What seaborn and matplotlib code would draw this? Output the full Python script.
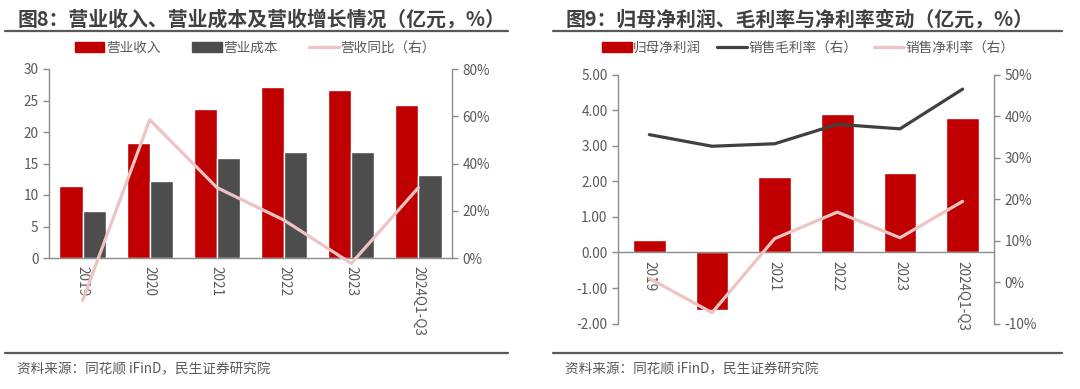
import numpy as np
import pandas as pd
import matplotlib
matplotlib.use('Agg')
import matplotlib.pyplot as plt
import seaborn as sns
from matplotlib.patches import Patch
from matplotlib.lines import Line2D
from matplotlib.ticker import PercentFormatter, FormatStrFormatter, MultipleLocator

# 数据
years = ['2019', '2020', '2021', '2022', '2023', '2024Q1-Q3']
revenue = [11.5, 18.2, 23.6, 27.2, 26.7, 24.3]      # 营业收入（亿元）
cost = [7.4, 12.3, 15.8, 16.9, 16.9, 13.1]          # 营业成本（亿元）
rev_yoy = [-18.0, 58.5, 29.8, 16.0, -2.3, 29.8]     # 营收同比（%）

net_profit = [0.35, -1.61, 2.14, 3.91, 2.23, 3.78]  # 归母净利润（亿元）
gross_margin = [35.6, 32.8, 33.4, 38.1, 37.0, 46.6]  # 销售毛利率（%）
net_margin = [0.9, -7.4, 10.5, 16.9, 10.7, 19.5]     # 销售净利率（%）

RED = '#C00000'
GRAY = '#4D4D4D'
PINK = '#EDC3C3'
DARK = '#404040'
TXT = '#595959'
SPINE = '#8C8C8C'

sns.set_style('white')
plt.rcParams['font.family'] = ['Noto Sans CJK SC', 'DejaVu Sans']
plt.rcParams['axes.unicode_minus'] = False

W, H = 1080, 389
fig = plt.figure(figsize=(W / 100, H / 100), dpi=100)


def px_axes(x0, y0, x1, y1):
    # 像素坐标（左上为原点）转成 figure 坐标
    return fig.add_axes([x0 / W, 1 - y1 / H, (x1 - x0) / W, (y1 - y0) / H])


def style_axes(ax, ax2):
    for a in (ax, ax2):
        for s in a.spines.values():
            s.set_color(SPINE)
            s.set_linewidth(1.0)
        a.spines['top'].set_visible(False)
        a.tick_params(axis='y', colors=TXT, labelsize=9.8, length=4, width=1, color=SPINE)
    ax.spines['right'].set_visible(False)
    ax2.spines['left'].set_visible(False)
    ax2.spines['bottom'].set_visible(False)
    ax.set_xlim(-0.5, len(years) - 0.5)
    ax.set_xticks(np.arange(len(years)))
    ax.set_xticklabels(years, rotation=-90, color=TXT, fontsize=9.8)
    ax.set_xticks(np.arange(len(years) + 1) - 0.5, minor=True)
    ax.tick_params(axis='x', which='major', length=0, pad=6)
    ax.tick_params(axis='x', which='minor', length=4, width=1, color=SPINE)
    ax.set_xlabel('')
    ax.set_ylabel('')
    ax2.set_ylabel('')


def frame(x0, x1, title):
    fig.text((x0 + 13) / W, 1 - 19 / H, title, fontsize=14.3, fontweight='bold',
             color=DARK, va='center', ha='left')
    fig.add_artist(Line2D([x0 / W, x1 / W], [1 - 31 / H, 1 - 31 / H], color='#595959', lw=1.6))
    fig.add_artist(Line2D([x0 / W, x1 / W], [1 - 353 / H, 1 - 353 / H], color='#595959', lw=1.6))
    fig.text((x0 + 12) / W, 1 - 369 / H, '资料来源：同花顺 iFinD，民生证券研究院',
             fontsize=9.8, color=TXT, va='center', ha='left')


# ---------------- 图8 ----------------
ax1 = px_axes(49, 69, 452, 258)
df1 = pd.DataFrame({
    'year': years * 2,
    'value': revenue + cost,
    'item': ['营业收入'] * len(years) + ['营业成本'] * len(years),
})
sns.barplot(data=df1, x='year', y='value', hue='item', palette=[RED, GRAY],
            width=0.69, gap=0, saturation=1, legend=False, ax=ax1)
ax1.set_ylim(0, 30)
ax1.yaxis.set_major_locator(MultipleLocator(5))

ax2 = ax1.twinx()
sns.lineplot(x=np.arange(len(years)), y=rev_yoy, ax=ax2, color=PINK, lw=2.3,
             sort=False, clip_on=False)
ax2.set_ylim(0, 80)
ax2.yaxis.set_major_locator(MultipleLocator(20))
ax2.yaxis.set_major_formatter(PercentFormatter(100, decimals=0))
style_axes(ax1, ax2)

h1 = [Patch(color=RED), Patch(color=GRAY), Line2D([], [], color=PINK, lw=2.3)]
fig.legend(h1, ['营业收入', '营业成本', '营收同比（右）'], ncol=3, frameon=False,
           loc='center', bbox_to_anchor=(255 / W, 1 - 48 / H), fontsize=9.8,
           labelcolor=TXT, handlelength=2.2, handleheight=0.8, handletextpad=0.1,
           columnspacing=2.3)
frame(5, 508, '图8：营业收入、营业成本及营收增长情况（亿元，%）')

# ---------------- 图9 ----------------
ax3 = px_axes(618, 75, 994, 323.5)
sns.barplot(x=np.arange(len(years)), y=net_profit, color=RED, width=0.52,
            saturation=1, ax=ax3)
ax3.set_ylim(-2, 5)
ax3.spines['bottom'].set_position(('data', 0))
ax3.yaxis.set_major_locator(MultipleLocator(1))
ax3.yaxis.set_major_formatter(FormatStrFormatter('%.2f'))

ax4 = ax3.twinx()
sns.lineplot(x=np.arange(len(years)), y=gross_margin, ax=ax4, color=DARK, lw=2.3, sort=False)
sns.lineplot(x=np.arange(len(years)), y=net_margin, ax=ax4, color=PINK, lw=2.3, sort=False)
ax4.set_ylim(-10, 50)
ax4.yaxis.set_major_locator(MultipleLocator(10))
ax4.yaxis.set_major_formatter(PercentFormatter(100, decimals=0))
style_axes(ax3, ax4)

h2 = [Patch(color=RED), Line2D([], [], color=DARK, lw=2.3), Line2D([], [], color=PINK, lw=2.3)]
fig.legend(h2, ['归母净利润', '销售毛利率（右）', '销售净利率（右）'], ncol=3, frameon=False,
           loc='center', bbox_to_anchor=(808 / W, 1 - 48 / H), fontsize=9.8,
           labelcolor=TXT, handlelength=2.2, handleheight=0.8, handletextpad=0.1,
           columnspacing=1.2)
frame(553, 1062, '图9：归母净利润、毛利率与净利率变动（亿元，%）')

fig.savefig('out.png', dpi=100, facecolor='white')
